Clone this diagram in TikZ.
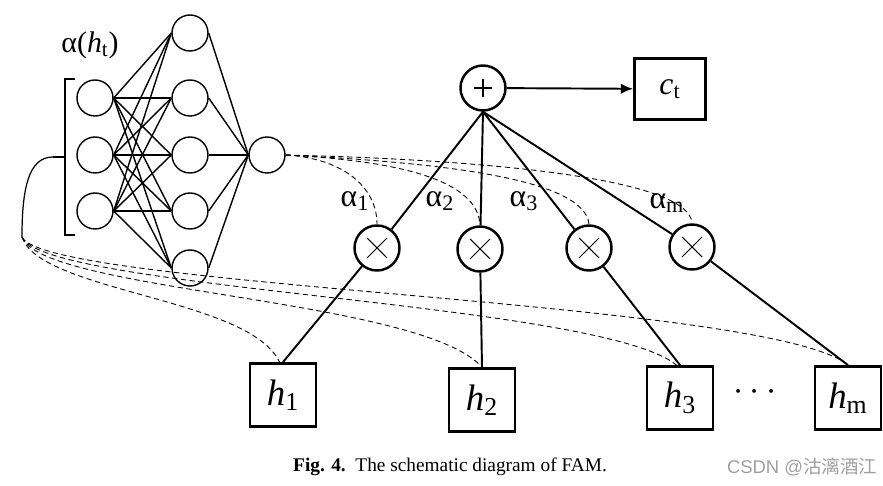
\documentclass[tikz,border=0pt]{standalone}
\usepackage{fontspec}
\setmainfont{Liberation Serif}
\newfontfamily\wmfont{Liberation Sans}
\newfontfamily\cjkfont{Noto Sans CJK SC}
\usetikzlibrary{arrows.meta,positioning}

\tikzset{
  neuron/.style={circle, draw, line width=0.8pt, minimum size=0.72cm, inner sep=0pt},
  opnode/.style={circle, draw, line width=1.4pt, minimum size=0.9cm, inner sep=0pt},
  plusmark/.style={path picture={
      \draw[line width=0.6pt] ([xshift=-0.18cm]path picture bounding box.center) -- ([xshift=0.18cm]path picture bounding box.center);
      \draw[line width=0.6pt] ([yshift=-0.18cm]path picture bounding box.center) -- ([yshift=0.18cm]path picture bounding box.center);}},
  timesmark/.style={path picture={
      \draw[line width=0.6pt] ([shift={(-0.2cm,-0.2cm)}]path picture bounding box.center) -- ([shift={(0.2cm,0.2cm)}]path picture bounding box.center);
      \draw[line width=0.6pt] ([shift={(-0.2cm,0.2cm)}]path picture bounding box.center) -- ([shift={(0.2cm,-0.2cm)}]path picture bounding box.center);}},
  vecbox/.style={rectangle, draw, line width=1.6pt, minimum width=1.32cm, minimum height=1.26cm, inner sep=0pt, font=\fontsize{21}{24}\selectfont},
  weight/.style={line width=0.8pt},
  branch/.style={line width=1.1pt},
  attn/.style={line width=0.5pt, dash pattern=on 3pt off 2pt},
  wlabel/.style={font=\fontsize{18}{20}\selectfont, inner sep=0pt},
}

\begin{document}
\begin{tikzpicture}[x=0.02cm, y=-0.02cm]
  \useasboundingbox (0,0) rectangle (883,486);

  \foreach \i/\y in {1/98, 2/155, 3/211}
    \node[neuron] (in\i) at (95,\y) {};
  \foreach \j/\y in {1/33, 2/98, 3/155, 4/211, 5/268}
    \node[neuron] (hid\j) at (190,\y) {};
  \node[neuron] (out) at (267,155) {};
  \foreach \i in {1,2,3}
    \foreach \j in {1,...,5}
      \draw[weight] (in\i.east) -- (hid\j.west);
  \foreach \j in {1,...,5}
    \draw[weight] (hid\j.east) -- (out.west);
  \node[inner sep=0pt] (alphah) at (90,45) {\fontsize{17}{19}\selectfont α(\textit{h}\textsubscript{t})};

  \coordinate (brk) at (53,157);
  \coordinate (fan) at (22,237);
  \draw[line width=1pt] (75,79) -- (65,79) -- (65,235) -- (75,235);
  \draw[line width=1pt] (65,157) -- (brk);
  \draw[line width=0.7pt] (brk) .. controls (28,157) and (22,190) .. (fan);

  \node[opnode, plusmark] (sum) at (483,88) {};
  \node[vecbox, minimum width=1.42cm, minimum height=1.22cm, font=\fontsize{18}{20}\selectfont] (ct) at (670,89) {\textit{c}\textsubscript{t}};
  \draw[branch, -{Latex[length=7pt, width=6pt]}] (sum) -- (ct);

  \foreach \k/\x/\y in {1/377/248, 2/480/249, 3/589/248, 4/692/247} {
    \node[opnode, timesmark] (mul\k) at (\x,\y) {};
    \draw[branch] (sum.south) -- (mul\k);
  }

  \node[wlabel] (a1) at (355,201) {α\textsubscript{1}};
  \node[wlabel] (a2) at (440,201) {α\textsubscript{2}};
  \node[wlabel] (a3) at (524,201) {α\textsubscript{3}};
  \node[wlabel] (am) at (667,203) {α\textsubscript{m}};

  \node[vecbox] (h1) at (283,395) {\textit{h}\textsubscript{1}};
  \node[vecbox] (h2) at (482,400) {\textit{h}\textsubscript{2}};
  \node[vecbox] (h3) at (680,398) {\textit{h}\textsubscript{3}};
  \node[vecbox] (hm) at (848,398) {\textit{h}\textsubscript{m}};
  \node (dots) at (755,392) {\fontsize{20}{22}\selectfont$\cdots$};

  \draw[branch] (mul1) -- (h1.north);
  \draw[branch] (mul2) -- (h2.north);
  \draw[branch] (mul3) -- (h3.north);
  \draw[branch] (mul4) -- (hm.north);

  \draw[attn] (out.east) .. controls (340,158) and (377,185) .. (mul1.north);
  \draw[attn] (out.east) .. controls (380,160) and (478,175) .. (mul2.north);
  \draw[attn] (out.east) .. controls (450,163) and (585,180) .. (mul3.north);
  \draw[attn] (out.east) .. controls (500,160) and (690,180) .. (mul4.north);

  \draw[attn] (fan) .. controls (40,292) and (250,298) .. ([xshift=-2]h1.north);
  \draw[attn] (fan) .. controls (42,292) and (420,298) .. (h2.north);
  \draw[attn] (fan) .. controls (44,290) and (600,302) .. ([xshift=-2]h3.north);
  \draw[attn] (fan) .. controls (46,288) and (770,300) .. (hm.north);

  \node (cap) at (450,467) {\fontsize{11}{13}\selectfont\textbf{Fig. 4.}\ \ The schematic diagram of FAM.};
  \node[text=gray!75] (wm) at (802,467) {\fontsize{10.5}{12}\selectfont\wmfont CSDN @\cjkfont 沽漓酒江};
\end{tikzpicture}
\end{document}
